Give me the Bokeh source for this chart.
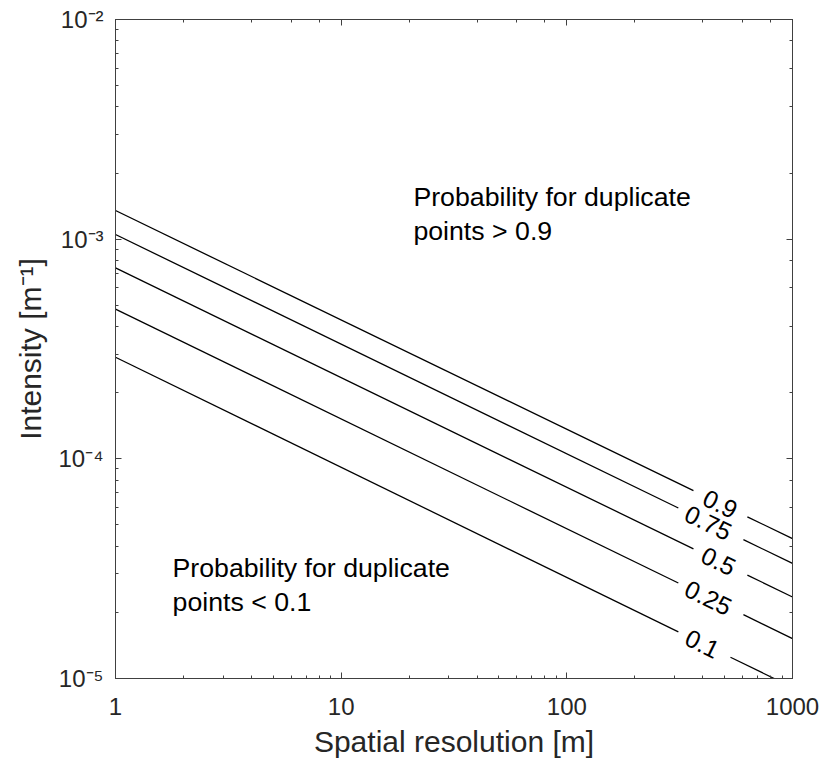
import math
from bokeh.plotting import figure
from bokeh.models import LogAxis, Label, CustomJSTickFormatter, Range1d
from bokeh.core.properties import value
from bokeh.embed import file_html
from bokeh.resources import INLINE

# ---- data ----
levels = ["0.9", "0.75", "0.5", "0.25", "0.1"]
x_left = 1.0
x_right = 1000.0
y_at_left = [1.35e-3, 1.05e-3, 7.4e-4, 4.8e-4, 2.9e-4]
y_at_right = [4.33e-5, 3.34e-5, 2.35e-5, 1.52e-5, 9.1e-6]
gap_start = [364, 312, 364, 312, 312]
gap_end = [631, 606, 631, 606, 531]
label_x = [479, 424, 470, 424, 399]

FONT = "Liberation Sans"
TXT = "#262626"
AX = "#404040"


def y_on_line(i, x):
    t = (math.log10(x) - math.log10(x_left)) / (math.log10(x_right) - math.log10(x_left))
    ly = math.log10(y_at_left[i]) + t * (math.log10(y_at_right[i]) - math.log10(y_at_left[i]))
    return 10 ** ly


p = figure(width=822, height=766, x_axis_type="log", y_axis_type="log",
           x_range=Range1d(1, 1000), y_range=Range1d(1e-5, 1e-2),
           output_backend="svg", toolbar_location=None,
           min_border_left=115, min_border_right=30, min_border_top=19, min_border_bottom=88)
p.grid.visible = False
p.outline_line_color = AX
p.background_fill_color = "white"
p.border_fill_color = "white"

sup_js = """
const m = {'-':'\\u207b','0':'\\u2070','1':'\\u00b9','2':'\\u00b2','3':'\\u00b3','4':'\\u2074','5':'\\u2075','6':'\\u2076','7':'\\u2077','8':'\\u2078','9':'\\u2079'};
const e = Math.round(Math.log10(tick));
return '10' + String(e).split('').map(c => m[c]).join('');
"""
p.yaxis[0].formatter = CustomJSTickFormatter(code=sup_js)
p.xaxis[0].formatter = CustomJSTickFormatter(code="return String(Math.round(tick));")

for ax in [p.xaxis[0], p.yaxis[0]]:
    ax.major_tick_in = 6
    ax.major_tick_out = 0
    ax.minor_tick_in = 3
    ax.minor_tick_out = 0
    ax.axis_line_color = AX
    ax.major_tick_line_color = AX
    ax.minor_tick_line_color = AX
    ax.major_label_text_font = FONT
    ax.major_label_text_font_size = "24px"
    ax.major_label_text_color = TXT
    ax.axis_label_text_font = FONT
    ax.axis_label_text_font_size = "30px"
    ax.axis_label_text_font_style = "normal"
    ax.axis_label_text_color = TXT

p.xaxis[0].axis_label = "Spatial resolution [m]"
p.yaxis[0].axis_label = "Intensity [m\u207b\u00b9]"
p.xaxis[0].major_label_standoff = 19
p.yaxis[0].major_label_standoff = 12
p.xaxis[0].axis_label_standoff = 7
p.yaxis[0].axis_label_standoff = 8

for loc in ["above", "right"]:
    a = LogAxis()
    a.major_tick_in = 6
    a.major_tick_out = 0
    a.minor_tick_in = 3
    a.minor_tick_out = 0
    a.axis_line_color = AX
    a.major_tick_line_color = AX
    a.minor_tick_line_color = AX
    a.major_label_text_font_size = "1px"
    a.major_label_text_alpha = 0
    a.major_label_standoff = 0
    p.add_layout(a, loc)

# contour lines with gaps for labels
xs, ys = [], []
for i in range(len(levels)):
    xs.append([x_left, gap_start[i]])
    ys.append([y_at_left[i], y_on_line(i, gap_start[i])])
    xs.append([gap_end[i], x_right])
    ys.append([y_on_line(i, gap_end[i]), y_at_right[i]])
p.multi_line(xs=xs, ys=ys, line_color="black", line_width=1.3)

label_y = [y_on_line(i, label_x[i]) for i in range(len(levels))]
p.text(x=label_x, y=label_y, text=levels, angle=-0.4535,
       text_align="center", text_baseline="middle",
       text_font=value(FONT), text_font_size="25px", text_color="black")

# annotations
for x, y, t in [(20.9, 1.55e-3, "Probability for duplicate"),
                (20.9, 1.094e-3, "points > 0.9"),
                (1.79, 3.17e-5, "Probability for duplicate"),
                (1.79, 2.22e-5, "points < 0.1")]:
    p.add_layout(Label(x=x, y=y, text=t, text_font=FONT, text_font_size="26.7px",
                       text_color="black", text_baseline="alphabetic", text_align="left"))

open("out.html", "w").write(file_html(p, INLINE))
